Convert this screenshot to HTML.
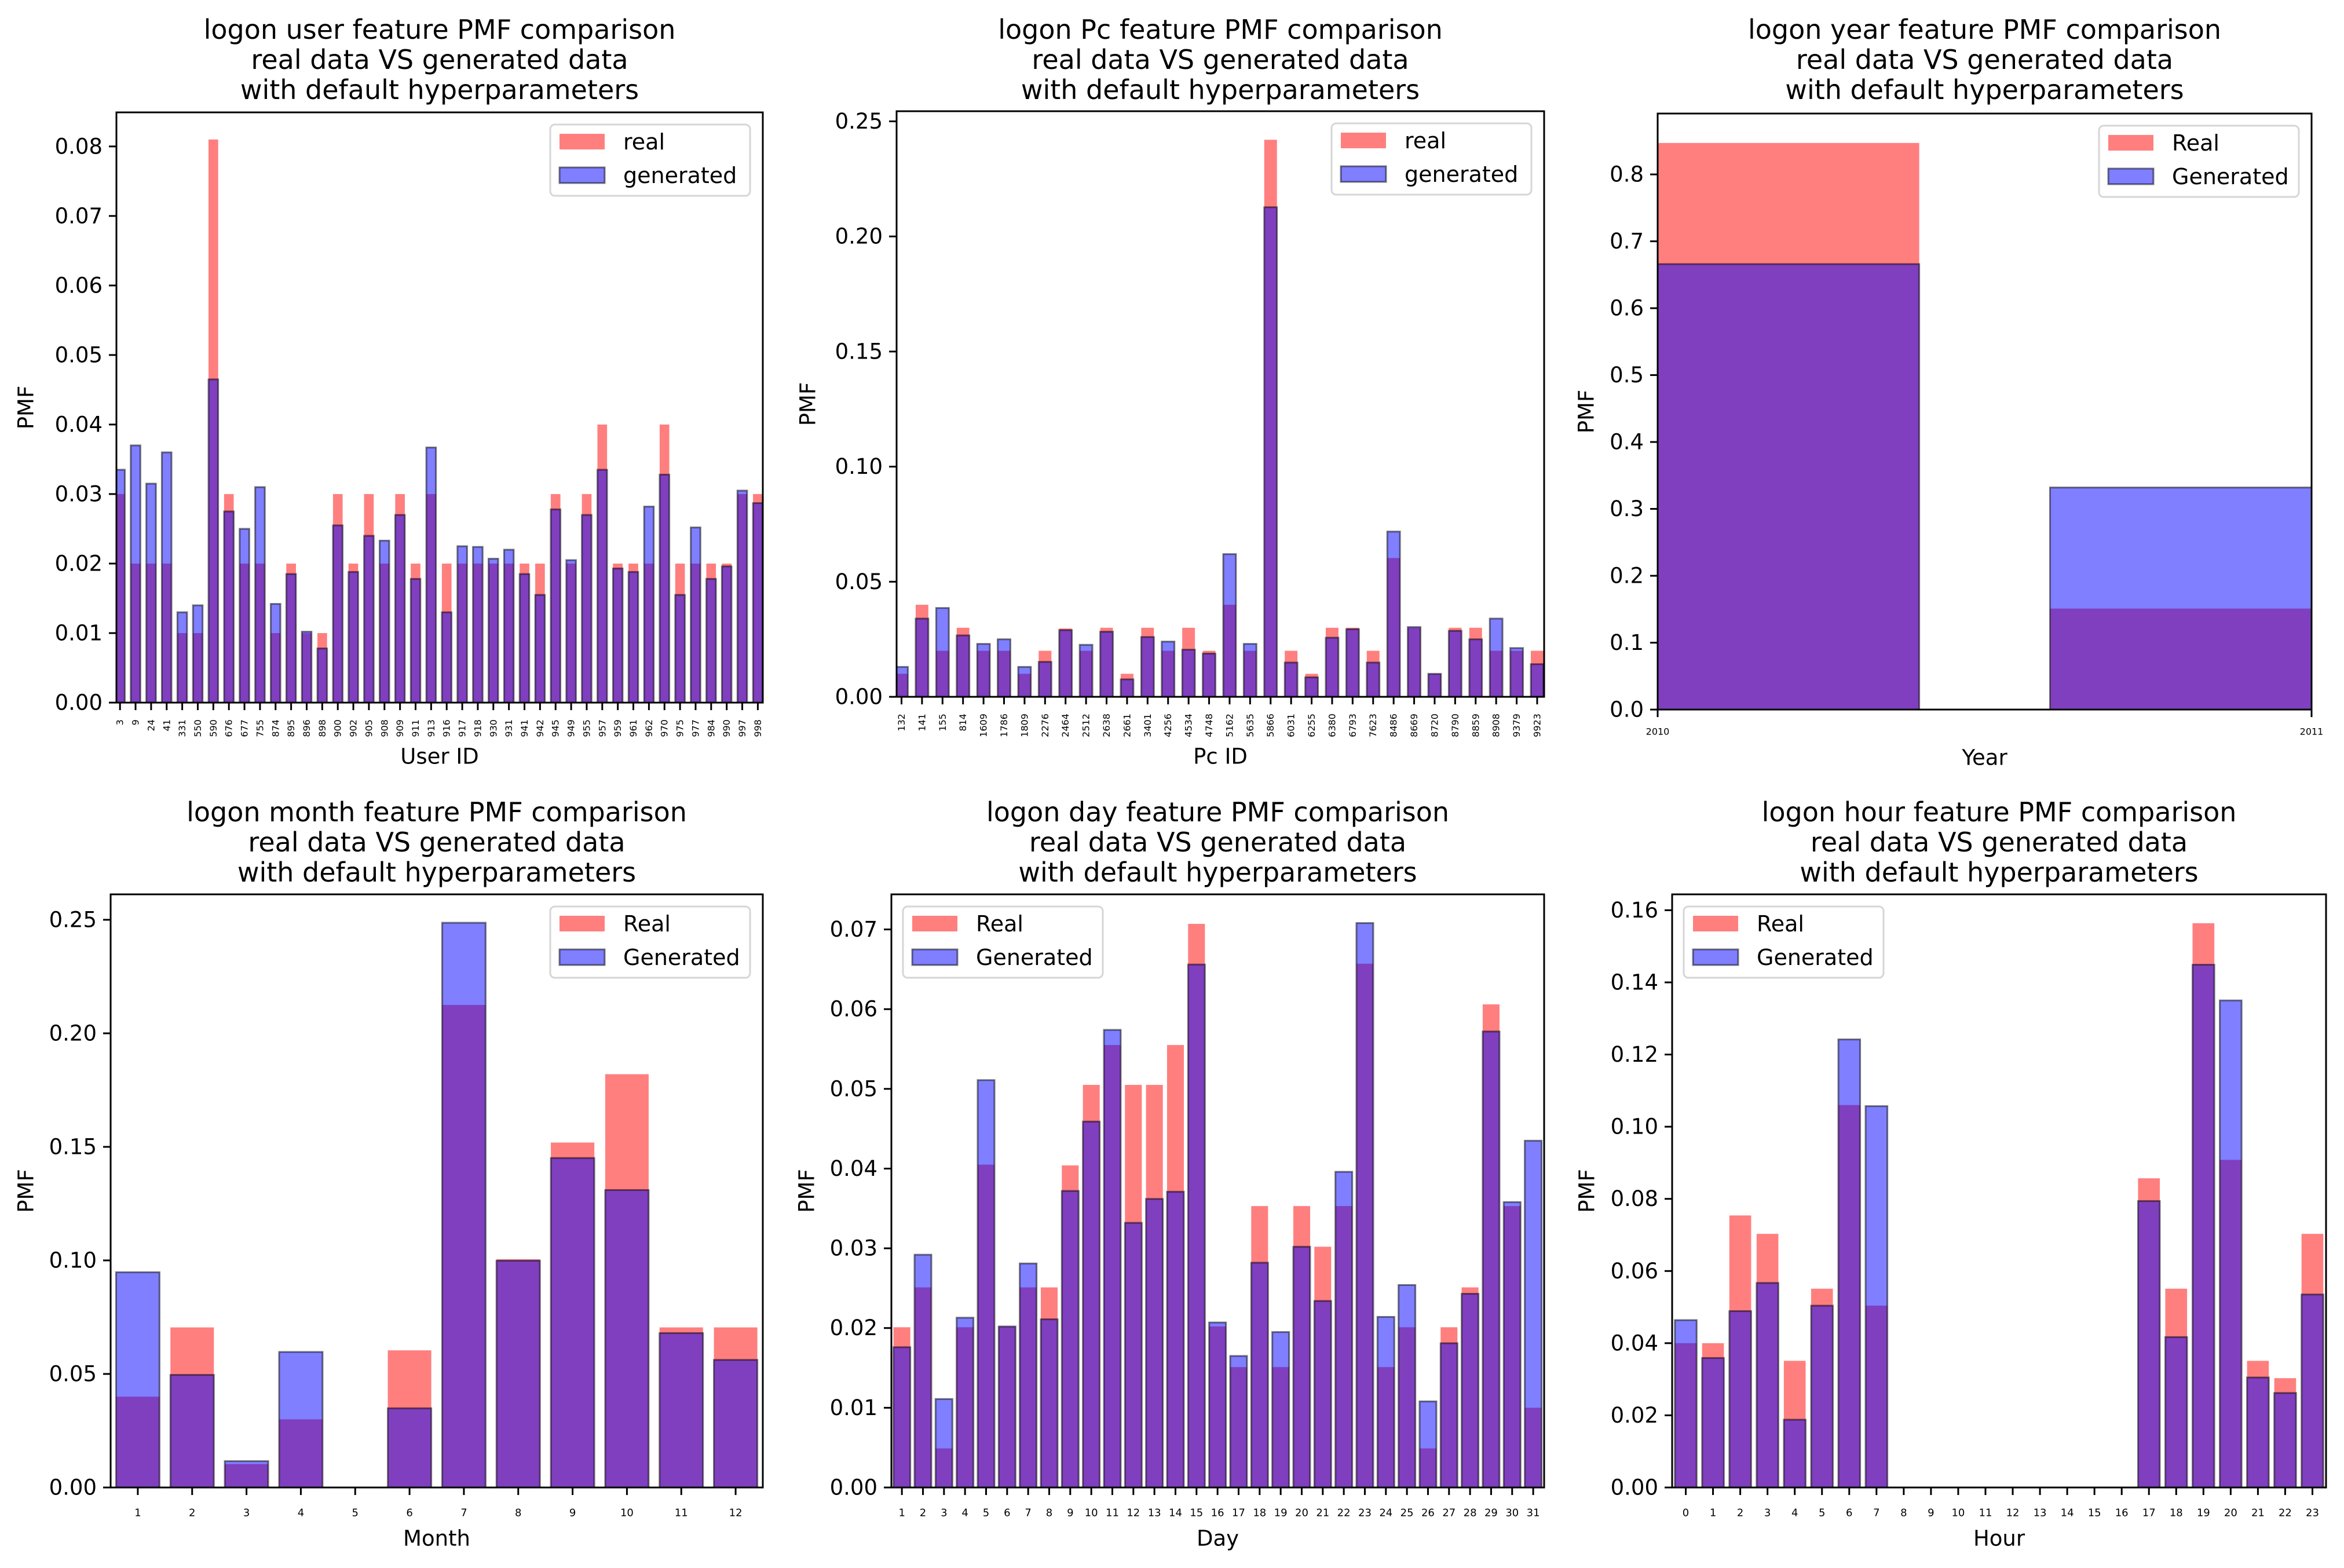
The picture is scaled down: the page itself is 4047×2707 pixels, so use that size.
<!DOCTYPE html>
<html><head><meta charset="utf-8"><title>logon PMF comparison</title>
<style>
html,body{margin:0;padding:0;background:#fff;}
svg{display:block;font-family:"DejaVu Sans","Liberation Sans",sans-serif;}
</style></head>
<body>
<svg id="fig" width="4047" height="2707" viewBox="0 0 4047 2707" xmlns="http://www.w3.org/2000/svg">
<rect x="0" y="0" width="4047" height="2707" fill="#fff"/>
</svg>
<script>
// ---- data ----
const userCats = ['3','9','24','41','331','550','590','676','677','755','874','895','896','898','900','902','905','908','909','911','913','916','917','918','930','931','941','942','945','949','955','957','959','961','962','970','975','977','984','990','997','998'];
const userReal = [0.030,0.020,0.020,0.020,0.010,0.010,0.081,0.030,0.020,0.020,0.010,0.020,0.010,0.010,0.030,0.020,0.030,0.020,0.030,0.020,0.030,0.020,0.020,0.020,0.020,0.020,0.020,0.020,0.030,0.020,0.030,0.040,0.020,0.020,0.020,0.040,0.020,0.020,0.020,0.020,0.030,0.030];
const userGen = [0.0335,0.037,0.0315,0.036,0.013,0.014,0.0465,0.0275,0.025,0.031,0.0142,0.0185,0.0102,0.0078,0.0255,0.0188,0.024,0.0233,0.027,0.0178,0.0367,0.013,0.0225,0.0224,0.0207,0.022,0.0185,0.0155,0.0278,0.0205,0.027,0.0335,0.0193,0.0188,0.0282,0.0328,0.0155,0.0252,0.0178,0.0196,0.0305,0.0287];

const pcCats = ['132','141','155','814','1609','1786','1809','2276','2464','2512','2638','2661','3401','4256','4534','4748','5162','5635','5866','6031','6255','6380','6793','7623','8486','8669','8720','8790','8859','8908','9379','9923'];
const pcReal = [0.010,0.040,0.020,0.030,0.020,0.020,0.010,0.020,0.0297,0.020,0.030,0.010,0.030,0.020,0.030,0.020,0.040,0.020,0.242,0.020,0.010,0.030,0.030,0.020,0.0603,0.030,0.010,0.030,0.030,0.020,0.020,0.020];
const pcGen = [0.013,0.034,0.0386,0.0267,0.023,0.025,0.013,0.0152,0.029,0.0226,0.0283,0.0076,0.026,0.024,0.0205,0.0188,0.062,0.023,0.2127,0.0149,0.0085,0.0257,0.0294,0.0149,0.0718,0.0303,0.010,0.0287,0.025,0.034,0.0212,0.0142];

const yearCats = ['2010','2011'];
const yearReal = [0.847,0.151];
const yearGen = [0.666,0.332];

const monthCats = ['1','2','3','4','5','6','7','8','9','10','11','12'];
const monthReal = [0.040,0.0705,0.0103,0.030,0,0.0604,0.2125,0.1005,0.1519,0.182,0.0705,0.0705];
const monthGen = [0.0948,0.0496,0.0116,0.0597,0,0.0349,0.2487,0.0999,0.1451,0.131,0.068,0.0562];

const dayCats = ['1','2','3','4','5','6','7','8','9','10','11','12','13','14','15','16','17','18','19','20','21','22','23','24','25','26','27','28','29','30','31'];
const dayReal = [0.0201,0.0251,0.0049,0.0201,0.0405,0.0202,0.0251,0.0251,0.0404,0.0505,0.0555,0.0505,0.0505,0.0555,0.0707,0.0202,0.0151,0.0353,0.0151,0.0353,0.0302,0.0353,0.0657,0.0151,0.0201,0.0049,0.0201,0.0251,0.0606,0.0353,0.010];
const dayGen = [0.0176,0.0292,0.0111,0.0213,0.0511,0.0202,0.0281,0.0211,0.0372,0.0459,0.0574,0.0332,0.0362,0.0371,0.0656,0.0207,0.0165,0.0282,0.0195,0.0302,0.0234,0.0396,0.0708,0.0214,0.0254,0.0108,0.0181,0.0243,0.0572,0.0358,0.0435];

const hourCats = ['0','1','2','3','4','5','6','7','8','9','10','11','12','13','14','15','16','17','18','19','20','21','22','23'];
const hourReal = [0.040,0.040,0.0754,0.0703,0.0351,0.0551,0.106,0.0504,0,0,0,0,0,0,0,0,0,0.0857,0.0551,0.1564,0.0908,0.0351,0.0303,0.0703];
const hourGen = [0.0464,0.0359,0.0489,0.0567,0.0188,0.0504,0.1242,0.1057,0,0,0,0,0,0,0,0,0,0.0794,0.0417,0.1449,0.135,0.0305,0.0262,0.0535];

const ticksUser = [0,0.01,0.02,0.03,0.04,0.05,0.06,0.07,0.08];
const ticksPc = [0,0.05,0.10,0.15,0.20,0.25];
const ticksYear = [0,0.1,0.2,0.3,0.4,0.5,0.6,0.7,0.8];
const ticksMonth = [0,0.05,0.10,0.15,0.20,0.25];
const ticksDay = [0,0.01,0.02,0.03,0.04,0.05,0.06,0.07];
const ticksHour = [0,0.02,0.04,0.06,0.08,0.10,0.12,0.14,0.16];

// ---- drawing ----
const NS = 'http://www.w3.org/2000/svg';
const fig = document.getElementById('fig');
function mk(tag, attrs, parent){
  const e = document.createElementNS(NS, tag);
  for (const k in attrs) e.setAttribute(k, attrs[k]);
  (parent||fig).appendChild(e);
  return e;
}

function panel(c){
  const g = mk('g', {});
  
  
  const sx = v => c.x0 + (v - c.xmin) / (c.xmax - c.xmin) * (c.x1 - c.x0);
  const sy = v => c.y1 - (v - 0) / c.ymax * (c.y1 - c.y0);
  const clipId = 'clip-' + c.name;
  const cp = mk('clipPath', {id: clipId}, g);
  mk('rect', {x:c.x0, y:c.y0, width:c.x1-c.x0, height:c.y1-c.y0}, cp);
  const bars = mk('g', {'clip-path':'url(#'+clipId+')'}, g);
  c.real.forEach((v,i)=>{
    const pos = c.pos(i);
    const r = mk('rect', {x:sx(pos.l), y:sy(v), width:sx(pos.r)-sx(pos.l), height:Math.max(0, c.y1 - sy(v)), fill:'rgba(255,0,0,0.5)'}, bars);
    
    
  });
  c.gen.forEach((v,i)=>{
    if (v <= 0) return;
    const pos = c.pos(i);
    const r = mk('rect', {x:sx(pos.l), y:sy(v), width:sx(pos.r)-sx(pos.l), height:Math.max(0, c.y1 - sy(v)), fill:'rgba(0,0,255,0.5)', stroke:'rgba(0,0,0,0.5)', 'stroke-width':3}, bars);
    
    
  });
  c.yticks.forEach(t=>{
    const y = sy(t);
    mk('line', {x1:c.x0-13, x2:c.x0, y1:y, y2:y, stroke:'#000', 'stroke-width':3}, g);
    const tx = mk('text', {x:c.x0-24, y:y, 'font-size':37, 'text-anchor':'end', 'dominant-baseline':'central', fill:'#000'}, g);
    tx.textContent = t.toFixed(c.ydec);
    
    
  });
  c.cats.forEach((lab,i)=>{
    const x = sx(c.tickPos(i));
    mk('line', {x1:x, x2:x, y1:c.y1, y2:c.y1+13, stroke:'#000', 'stroke-width':3}, g);
    let tx;
    if (c.rot){
      tx = mk('text', {x:0, y:0, 'font-size':16, 'text-anchor':'end', 'dominant-baseline':'central', fill:'#000', transform:'translate('+x+','+(c.y1+29)+') rotate(-90)'}, g);
    } else {
      tx = mk('text', {x:x, y:c.y1+c.xtOff, 'font-size':c.xtSize, 'text-anchor':'middle', 'dominant-baseline':'central', fill:'#000'}, g);
    }
    tx.textContent = lab;
    
    
  });
  const sp = mk('rect', {x:c.x0, y:c.y0, width:c.x1-c.x0, height:c.y1-c.y0, fill:'none', stroke:'#000', 'stroke-width':3}, g);
  
  
  const cx = (c.x0+c.x1)/2;
  const tt = mk('text', {x:cx, y:c.tY, 'font-size':46, 'text-anchor':'middle', fill:'#000'}, g);
  
  
  [c.title, 'real data VS generated data', 'with default hyperparameters'].forEach((s,k)=>{
    const ts = mk('tspan', {x:cx, dy: k===0 ? 0 : 52}, tt);
    ts.textContent = s;
  });
  const xl = mk('text', {x:cx, y:c.xlY, 'font-size':37, 'text-anchor':'middle', 'dominant-baseline':'central', fill:'#000'}, g);
  xl.textContent = c.xlabel;
  
  
  const ym = (c.y0+c.y1)/2;
  const yl = mk('text', {x:0, y:0, 'font-size':37, 'text-anchor':'middle', 'dominant-baseline':'central', fill:'#000', transform:'translate('+c.ylX+','+ym+') rotate(-90)'}, g);
  yl.textContent = 'PMF';
  
  
  const lw = 345, lh = 123;
  const lx = c.legLeft ? c.x0 + 20 : c.x1 - 22 - lw;
  const ly = c.y0 + 21;
  const lg = mk('g', {}, g);
  
  
  mk('rect', {x:lx, y:ly, width:lw, height:lh, rx:8, fill:'rgba(255,255,255,0.85)', stroke:'#d6d6d6', 'stroke-width':3}, lg);
  const p1 = mk('rect', {x:lx+16, y:ly+16, width:78, height:27, fill:'rgba(255,0,0,0.5)'}, lg);
  
  
  const t1 = mk('text', {x:lx+126, y:ly+30, 'font-size':38, 'dominant-baseline':'central', fill:'#000'}, lg);
  t1.textContent = c.legReal;
  
  
  const p2 = mk('rect', {x:lx+16, y:ly+74, width:78, height:27, fill:'rgba(0,0,255,0.5)', stroke:'rgba(0,0,0,0.5)', 'stroke-width':3}, lg);
  
  
  const t2 = mk('text', {x:lx+126, y:ly+88, 'font-size':38, 'dominant-baseline':'central', fill:'#000'}, lg);
  t2.textContent = c.legGen;
  
  
}

const catBar = w => (i => ({l:i - w/2, r:i + w/2}));
const catBar1 = w => (i => ({l:i + 1 - w/2, r:i + 1 + w/2}));

panel({name:'user', x0:201, x1:1317, y0:194, y1:1213, xmin:-0.23, xmax:41.32, ymax:0.0849,
  cats:userCats, real:userReal, gen:userGen, pos:catBar(0.62), tickPos:i=>i, rot:true,
  yticks:ticksUser, ydec:2, title:'logon user feature PMF comparison', tY:67, xlabel:'User ID', xlY:1306, ylX:45,
  legReal:'real', legGen:'generated', legLeft:false});
panel({name:'pc', x0:1548, x1:2666, y0:192, y1:1203, xmin:-0.24, xmax:31.34, ymax:0.2544,
  cats:pcCats, real:pcReal, gen:pcGen, pos:catBar(0.62), tickPos:i=>i, rot:true,
  yticks:ticksPc, ydec:2, title:'logon Pc feature PMF comparison', tY:67, xlabel:'Pc ID', xlY:1306, ylX:1395,
  legReal:'real', legGen:'generated', legLeft:false});
panel({name:'year', x0:2862, x1:3991, y0:196, y1:1225, xmin:2010, xmax:2011, ymax:0.891,
  cats:yearCats, real:yearReal, gen:yearGen, pos:i=>({l:2010 + i*0.6, r:2010 + i*0.6 + 0.4}), tickPos:i=>2010+i, rot:false, xtSize:16, xtOff:38,
  yticks:ticksYear, ydec:1, title:'logon year feature PMF comparison', tY:67, xlabel:'Year', xlY:1308, ylX:2739,
  legReal:'Real', legGen:'Generated', legLeft:false});
panel({name:'month', x0:191, x1:1317, y0:1544, y1:2568, xmin:0.5, xmax:12.5, ymax:0.2612,
  cats:monthCats, real:monthReal, gen:monthGen, pos:catBar1(0.8), tickPos:i=>i+1, rot:false, xtSize:18, xtOff:44,
  yticks:ticksMonth, ydec:2, title:'logon month feature PMF comparison', tY:1418, xlabel:'Month', xlY:2656, ylX:45,
  legReal:'Real', legGen:'Generated', legLeft:false});
panel({name:'day', x0:1539, x1:2666, y0:1544, y1:2568, xmin:0.5, xmax:31.52, ymax:0.0744,
  cats:dayCats, real:dayReal, gen:dayGen, pos:catBar1(0.8), tickPos:i=>i+1, rot:false, xtSize:18, xtOff:44,
  yticks:ticksDay, ydec:2, title:'logon day feature PMF comparison', tY:1418, xlabel:'Day', xlY:2656, ylX:1393,
  legReal:'Real', legGen:'Generated', legLeft:true});
panel({name:'hour', x0:2887, x1:4016, y0:1544, y1:2568, xmin:-0.5, xmax:23.5, ymax:0.1644,
  cats:hourCats, real:hourReal, gen:hourGen, pos:catBar(0.8), tickPos:i=>i, rot:false, xtSize:18, xtOff:44,
  yticks:ticksHour, ydec:2, title:'logon hour feature PMF comparison', tY:1418, xlabel:'Hour', xlY:2656, ylX:2740,
  legReal:'Real', legGen:'Generated', legLeft:true});
</script>
</body></html>
